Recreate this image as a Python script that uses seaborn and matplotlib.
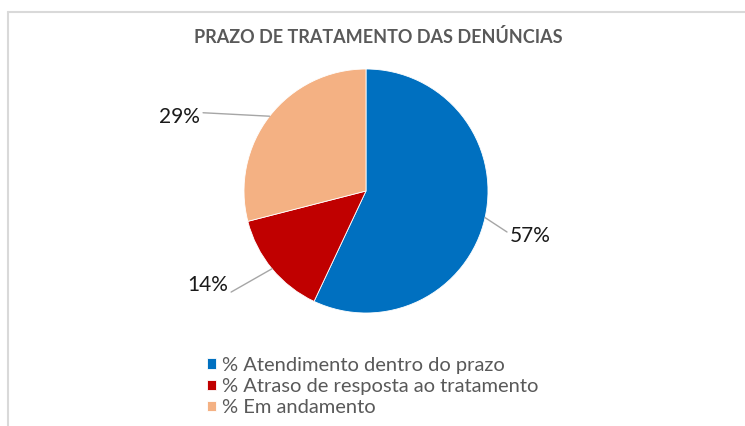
import matplotlib
matplotlib.use("Agg")
import matplotlib.pyplot as plt
from matplotlib.lines import Line2D
import numpy as np
import seaborn as sns

# data
categories = ['% Atendimento dentro do prazo',
              '% Atraso de resposta ao tratamento',
              '% Em andamento']
shares = [57, 14, 29]
colors = ['#0070C0', '#C00000', '#F4B183']
title = 'PRAZO DE TRATAMENTO DAS DENÚNCIAS'

# label positions (data units, pie radius = 1) and line anchor on the text
label_pos = [(1.35, -0.37), (-1.30, -0.77), (-1.53, 0.61)]
label_rel = [(0.0, 0.6), (1.0, 0.05), (1.0, 0.7)]

sns.set_theme(style="white")
plt.rcParams['font.family'] = ['Lato', 'DejaVu Sans']

W, H = 745, 426
fig = plt.figure(figsize=(W / 100, H / 100), dpi=100)

# pie center at (366, 191) px, radius 122 px
R = 122
cx, cy = 366, 191
xl, yl = 2.0, 1.5
ax = fig.add_axes([(cx - xl * R) / W, (H - (cy + yl * R)) / H,
                   2 * xl * R / W, 2 * yl * R / H])

wedges, _ = ax.pie(shares, colors=colors, startangle=90, counterclock=False,
                   radius=1, wedgeprops=dict(edgecolor='white', linewidth=0.6))
ax.set_xlim(-xl, xl)
ax.set_ylim(-yl, yl)
ax.set_aspect('auto')
ax.axis('off')

for w, val, pos, rel in zip(wedges, shares, label_pos, label_rel):
    ang = np.deg2rad((w.theta1 + w.theta2) / 2)
    ax.annotate(f'{val}%', xy=(np.cos(ang), np.sin(ang)), xytext=pos,
                ha='center', va='center', fontsize=15, color='#1a1a1a',
                arrowprops=dict(arrowstyle='-', color='#A6A6A6', lw=1.0,
                                relpos=rel, shrinkA=0, shrinkB=0))

fig.text(378 / W, 1 - 37 / H, title, ha='center', va='center',
         fontsize=13, color='#595959', fontweight='bold')

leg = fig.legend(wedges, categories, loc='upper left',
                 bbox_to_anchor=(197 / W, 1 - 347 / H), frameon=False,
                 fontsize=14.5, handlelength=0.45, handleheight=0.45,
                 handletextpad=0.3, labelspacing=0.2, borderpad=0)
for t in leg.get_texts():
    t.set_color('#595959')

# chart area border (top and left visible)
fig.add_artist(Line2D([8 / W, 8 / W], [0, 1 - 12 / H], color='#D9D9D9',
                      lw=1.5, transform=fig.transFigure))
fig.add_artist(Line2D([8 / W, 1], [1 - 12 / H, 1 - 12 / H], color='#D9D9D9',
                      lw=1.5, transform=fig.transFigure))

fig.savefig('out.png', dpi=100)
